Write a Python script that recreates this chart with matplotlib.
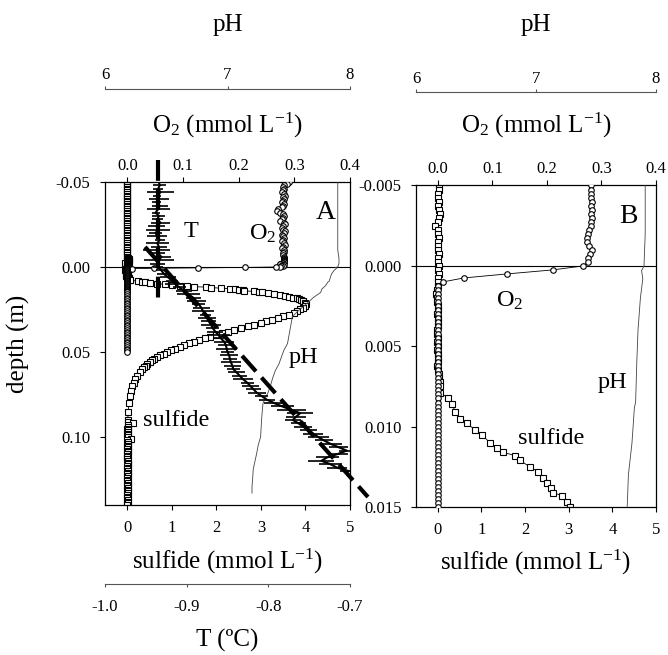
import numpy as np
import matplotlib.pyplot as plt

plt.rcParams['font.family'] = ['Liberation Serif', 'DejaVu Serif']
plt.rcParams['mathtext.fontset'] = 'custom'
plt.rcParams['mathtext.rm'] = 'Liberation Serif'
plt.rcParams['mathtext.it'] = 'Liberation Serif:italic'
plt.rcParams['axes.unicode_minus'] = False
plt.rcParams['axes.linewidth'] = 0.9
plt.rcParams['xtick.direction'] = 'out'
plt.rcParams['ytick.direction'] = 'out'
plt.rcParams['xtick.major.size'] = 3.5
plt.rcParams['ytick.major.size'] = 3.5
plt.rcParams['xtick.labelsize'] = 12
plt.rcParams['ytick.labelsize'] = 12

# --- profiles across the sediment-water interface (depth in m, positive downwards) ---

# water column, 1 mm steps
water_depth = np.round(np.arange(-50, -5) * 0.001, 4)          # -0.050 ... -0.006
o2_water = [0.290, 0.286, 0.281, 0.279, 0.282, 0.280, 0.278, 0.281, 0.283, 0.279,
            0.281, 0.280, 0.277, 0.282, 0.280, 0.278, 0.271, 0.269, 0.275, 0.279,
            0.282, 0.280, 0.278, 0.275, 0.281, 0.283, 0.280, 0.277, 0.279, 0.284,
            0.281, 0.278, 0.280, 0.282, 0.279, 0.277, 0.281, 0.283, 0.280, 0.278,
            0.282, 0.281, 0.279, 0.280, 0.281]
sulf_water = [0.0] * 45

# high resolution part, 0.25 mm steps
fine_depth = np.round(np.arange(-20, 61) * 0.00025, 5)         # -0.005 ... 0.015
o2_fine = ([0.281, 0.281, 0.281, 0.281, 0.282, 0.281, 0.282, 0.281, 0.282, 0.281,
            0.280, 0.278, 0.276, 0.274, 0.274, 0.277, 0.282, 0.279, 0.276, 0.275,
            0.267, 0.211, 0.127, 0.048, 0.009]
           + [0.0] * 56)
sulf_fine_depth = fine_depth[:51]                              # -0.005 ... 0.0075
sulf_fine = [0.02, 0.03, 0.01, 0.00, 0.02, 0.01, 0.03, 0.04, 0.02, 0.01,
             -0.06, 0.00, 0.01, 0.02, 0.01, 0.00, 0.01, 0.02, 0.00, 0.01,
             0.02, 0.01, 0.03, 0.00, 0.01, 0.00, -0.03, -0.04, -0.02, -0.03,
             0.00, 0.01, -0.01, 0.00, 0.01, 0.00, -0.02, -0.01, 0.00, -0.01,
             0.00, -0.02, 0.00, 0.01, 0.00, -0.01, 0.01, 0.03, 0.02, 0.04, 0.06]

# sulfide front
front_depth = [0.0079, 0.0082, 0.0086, 0.0091, 0.0095, 0.0098, 0.0102, 0.0105, 0.0110, 0.0113,
               0.0116, 0.0118, 0.0121, 0.0125, 0.0128, 0.0132, 0.0135, 0.0138, 0.0141, 0.0143,
               0.0147, 0.0150]
front_sulf = [0.05, 0.24, 0.33, 0.40, 0.51, 0.67, 0.85, 1.01, 1.19, 1.35,
              1.50, 1.77, 1.88, 2.11, 2.30, 2.41, 2.50, 2.60, 2.63, 2.85,
              2.96, 3.03]

# sulfide peak and decline in the sediment
core_depth = [0.0155, 0.016, 0.0165, 0.017, 0.0175, 0.018, 0.0185, 0.019, 0.0195,
              0.020, 0.021, 0.022, 0.023, 0.024, 0.025, 0.026, 0.027, 0.028, 0.029,
              0.030, 0.031, 0.032, 0.033, 0.034, 0.035, 0.036, 0.037, 0.038, 0.039,
              0.040, 0.041, 0.042, 0.043, 0.044, 0.045, 0.046, 0.047, 0.048, 0.049,
              0.050, 0.051, 0.052, 0.053, 0.054, 0.055, 0.056, 0.057, 0.058, 0.059,
              0.060, 0.062, 0.064, 0.066, 0.068, 0.070, 0.073, 0.076, 0.080, 0.085, 0.090]
core_sulf = [3.17, 3.30, 3.42, 3.53, 3.63, 3.72, 3.80, 3.86, 3.91,
             3.95, 3.99, 4.01, 3.99, 3.95, 3.88, 3.82, 3.74, 3.62, 3.50,
             3.38, 3.25, 3.12, 3.00, 2.85, 2.70, 2.55, 2.40, 2.25, 2.12,
             1.99, 1.86, 1.74, 1.61, 1.49, 1.38, 1.28, 1.18, 1.08, 0.99,
             0.90, 0.82, 0.74, 0.67, 0.61, 0.55, 0.50, 0.45, 0.41, 0.37,
             0.34, 0.28, 0.22, 0.18, 0.14, 0.11, 0.08, 0.06, 0.04, 0.02, 0.01]

deep_depth = np.round(np.arange(91, 141) * 0.001, 3)           # 0.091 ... 0.140
deep_sulf = [0.01, 0.12, 0.02, 0.01, 0.00, 0.01, 0.01, 0.00, 0.02, 0.01,
             0.08, 0.00, 0.01, 0.02, 0.00, 0.01, 0.00, 0.01, 0.02, 0.00,
             0.01, 0.00, 0.00, 0.01, 0.02, 0.01, 0.00, 0.01, 0.00, 0.01,
             0.02, 0.00, 0.01, 0.00, 0.01, 0.00, 0.02, 0.01, 0.00, 0.01,
             0.00, 0.01, 0.02, 0.00, 0.01, 0.00, 0.01, 0.00, 0.01, 0.00]
anoxic_depth = np.round(np.arange(16, 51) * 0.001, 3)          # 0.016 ... 0.050
o2_anoxic = [0.0] * 35

# pH
ph_depth = [-0.050, -0.040, -0.030, -0.020, -0.010, -0.005, -0.002, 0.000, 0.0003, 0.0008,
            0.002, 0.004, 0.006, 0.0085, 0.0088, 0.011, 0.013, 0.015, 0.018, 0.022,
            0.025, 0.029, 0.033, 0.037, 0.041, 0.045, 0.049, 0.053, 0.057, 0.061,
            0.065, 0.070, 0.074, 0.077, 0.080, 0.084, 0.088, 0.094, 0.100, 0.105,
            0.109, 0.114, 0.119, 0.125, 0.129, 0.133]
ph_value = [7.90, 7.90, 7.90, 7.90, 7.90, 7.91, 7.91, 7.90, 7.88, 7.89,
            7.87, 7.85, 7.84, 7.83, 7.82, 7.80, 7.77, 7.76, 7.70, 7.64,
            7.59, 7.53, 7.52, 7.51, 7.50, 7.49, 7.46, 7.44, 7.42, 7.39,
            7.37, 7.35, 7.33, 7.31, 7.29, 7.285, 7.28, 7.275, 7.27, 7.25,
            7.24, 7.225, 7.21, 7.205, 7.20, 7.20]

# temperature (deg C) with standard deviation, 2 mm steps
t_depth_water = np.round(np.arange(-25, 1) * 0.002, 3)         # -0.050 ... 0.000
t_water = [-0.934, -0.933, -0.935, -0.932, -0.936, -0.934, -0.937, -0.933, -0.935, -0.938,
           -0.934, -0.936, -0.932, -0.937, -0.935, -0.938, -0.936, -0.933, -0.936, -0.934,
           -0.937, -0.935, -0.931, -0.934, -0.936, -0.935]
t_water_sd = [0.004, 0.008, 0.006, 0.016, 0.005, 0.012, 0.006, 0.010, 0.014, 0.005,
              0.008, 0.007, 0.012, 0.010, 0.015, 0.008, 0.012, 0.006, 0.014, 0.010,
              0.016, 0.008, 0.012, 0.018, 0.009, 0.006]
t_depth_sed = np.round(np.arange(1, 61) * 0.002, 3)            # 0.002 ... 0.120
t_sed = [-0.931, -0.928, -0.923, -0.918, -0.914, -0.909, -0.903, -0.898, -0.892, -0.888,
         -0.885, -0.882, -0.880, -0.877, -0.875, -0.873, -0.870, -0.868, -0.865, -0.861,
         -0.858, -0.854, -0.852, -0.851, -0.850, -0.848, -0.847, -0.846, -0.844, -0.843,
         -0.839, -0.835, -0.831, -0.826, -0.822, -0.818, -0.814, -0.808, -0.802, -0.793,
         -0.783, -0.772, -0.761, -0.766, -0.770, -0.763, -0.757, -0.751, -0.745, -0.739,
         -0.732, -0.724, -0.714, -0.704, -0.715, -0.728, -0.735, -0.724, -0.716, -0.702]
t_sed_sd = [0.006, 0.008, 0.010, 0.007, 0.012, 0.008, 0.010, 0.014, 0.009, 0.012,
            0.008, 0.010, 0.013, 0.007, 0.011, 0.009, 0.012, 0.008, 0.010, 0.014,
            0.009, 0.012, 0.010, 0.013, 0.008, 0.011, 0.009, 0.012, 0.010, 0.008,
            0.011, 0.009, 0.012, 0.008, 0.010, 0.009, 0.011, 0.008, 0.010, 0.012,
            0.014, 0.018, 0.016, 0.012, 0.010, 0.009, 0.011, 0.010, 0.012, 0.013,
            0.011, 0.014, 0.012, 0.010, 0.012, 0.014, 0.016, 0.014, 0.012, 0.010]

# linear fits of the temperature in water and sediment
fit_water_depth = [-0.063, 0.021]
fit_water_t = [-0.935, -0.935]
fit_sed_depth = [-0.0118, 0.1353]
fit_sed_t = [-0.951, -0.678]

o2_depth = np.concatenate([water_depth, fine_depth, anoxic_depth])
o2_all = np.concatenate([o2_water, o2_fine, o2_anoxic])
sulf_depth = np.concatenate([water_depth, sulf_fine_depth, front_depth, core_depth, deep_depth])
sulf_all = np.concatenate([sulf_water, sulf_fine, front_sulf, core_sulf, deep_sulf])
t_depth = np.concatenate([t_depth_water, t_depth_sed])
t_all = np.concatenate([t_water, t_sed])
t_sd = np.concatenate([t_water_sd, t_sed_sd])

o2_label = r'O$_\mathregular{2}$ (mmol L$^\mathregular{-1}$)'
sulf_label = r'sulfide (mmol L$^\mathregular{-1}$)'
mk = dict(markersize=4, markerfacecolor='white', markeredgecolor='black',
          markeredgewidth=0.8, color='black', linewidth=0.6)

W, H = 668, 655
fig = plt.figure(figsize=(W / 100, H / 100), dpi=100)


def panel(rect, ylim, yticks, yfmt):
    ax = fig.add_axes(rect)
    ax.set_xlim(-0.5, 5)
    ax.set_ylim(*ylim)
    ax.set_xticks([0, 1, 2, 3, 4, 5])
    ax.set_yticks(yticks)
    ax.set_yticklabels([yfmt.format(v) for v in yticks])
    ax.tick_params(axis='x', pad=7.5)
    ax.tick_params(axis='y', pad=7)
    ax.axhline(0, color='black', linewidth=0.8)
    ax.set_xlabel(sulf_label, fontsize=18)
    ax.xaxis.label.set_va('center')

    o2 = ax.twiny()
    o2.set_xlim(-0.04, 0.4)
    o2.set_xticks([0.0, 0.1, 0.2, 0.3, 0.4])
    o2.set_xticklabels(['0.0', '0.1', '0.2', '0.3', '0.4'])
    o2.tick_params(axis='x', pad=2.5)
    for s in o2.spines.values():
        s.set_visible(False)
    o2.set_xlabel(o2_label, fontsize=18)
    o2.xaxis.label.set_va('center')

    ph = ax.twiny()
    ph.set_xlim(6, 8)
    ph.set_xticks([6, 7, 8])
    ph.tick_params(axis='x', length=2, pad=2.2, color='#555555')
    for s in ['left', 'right', 'bottom']:
        ph.spines[s].set_visible(False)
    ph.spines['top'].set_position(('outward', 67))
    ph.spines['top'].set_color('#555555')
    ph.spines['top'].set_linewidth(0.8)
    ph.set_xlabel('pH', fontsize=18)
    ph.xaxis.label.set_va('center')
    return ax, o2, ph


# ---------------- panel A: whole profile ----------------
axA, o2A, phA = panel([105 / W, 1 - 505 / H, 245 / W, 323 / H], (0.14, -0.05),
                      [-0.05, 0.0, 0.05, 0.10], '{:.2f}')
axA.set_ylabel('depth (m)', fontsize=18)
axA.yaxis.set_label_coords(-0.355, 0.5)
axA.yaxis.label.set_va('center')
axA.xaxis.set_label_coords(0.5, -0.176)
o2A.xaxis.set_label_coords(0.5, 1.176)
phA.xaxis.set_label_coords(0.5, 1.486)

tA = axA.twiny()
tA.set_xlim(-1.0, -0.7)
tA.set_xticks([-1.0, -0.9, -0.8, -0.7])
tA.set_xticklabels(['-1.0', '-0.9', '-0.8', '-0.7'])
tA.xaxis.set_ticks_position('bottom')
tA.xaxis.set_label_position('bottom')
tA.tick_params(axis='x', length=2, pad=9, color='#555555')
for s in ['left', 'right', 'top']:
    tA.spines[s].set_visible(False)
tA.spines['bottom'].set_position(('outward', 57))
tA.spines['bottom'].set_color('#555555')
tA.spines['bottom'].set_linewidth(0.8)
tA.set_xlabel('T (ºC)', fontsize=18)
tA.xaxis.label.set_va('center')
tA.xaxis.set_label_coords(0.5, -0.42)

phA.plot(ph_value, ph_depth, color='#444444', linewidth=0.6)
tA.errorbar(t_all, t_depth, xerr=t_sd, fmt='-', color='black', linewidth=1.5,
            elinewidth=1.2, capsize=0)
tA.plot(fit_water_t, fit_water_depth, color='black', linewidth=3,
        linestyle=(0, (5, 2)), clip_on=False)
tA.plot(fit_sed_t, fit_sed_depth, color='black', linewidth=3,
        linestyle=(0, (5, 2)), clip_on=False)
axA.plot(sulf_all, sulf_depth, marker='s', **mk)
o2A.plot(o2_all, o2_depth, marker='o', **mk)

axA.text(4.46, -0.0318, 'A', fontsize=20, ha='center', va='center')
axA.text(1.43, -0.0206, 'T', fontsize=17.5, ha='center', va='center')
axA.text(3.05, -0.0194, r'O$_\mathregular{2}$', fontsize=17.5, ha='center', va='center')
axA.text(3.95, 0.0535, 'pH', fontsize=17.5, ha='center', va='center')
axA.text(1.09, 0.090, 'sulfide', fontsize=17.5, ha='center', va='center')

# ---------------- panel B: interface in detail ----------------
axB, o2B, phB = panel([416 / W, 1 - 507 / H, 240 / W, 321.5 / H], (0.015, -0.005),
                      [-0.005, 0.0, 0.005, 0.010, 0.015], '{:.3f}')
axB.xaxis.set_label_coords(0.5, -0.171)
o2B.xaxis.set_label_coords(0.5, 1.188)
phB.xaxis.set_label_coords(0.5, 1.499)

phB.plot(ph_value, ph_depth, color='#444444', linewidth=0.6)
axB.plot(sulf_all, sulf_depth, marker='s', **mk)
o2B.plot(o2_all, o2_depth, marker='o', **mk)

axB.text(4.37, -0.00307, 'B', fontsize=20, ha='center', va='center')
axB.text(1.65, 0.00216, r'O$_\mathregular{2}$', fontsize=17.5, ha='center', va='center')
axB.text(4.01, 0.00726, 'pH', fontsize=17.5, ha='center', va='center')
axB.text(2.60, 0.01074, 'sulfide', fontsize=17.5, ha='center', va='center')

fig.savefig('out.png', dpi=100)
